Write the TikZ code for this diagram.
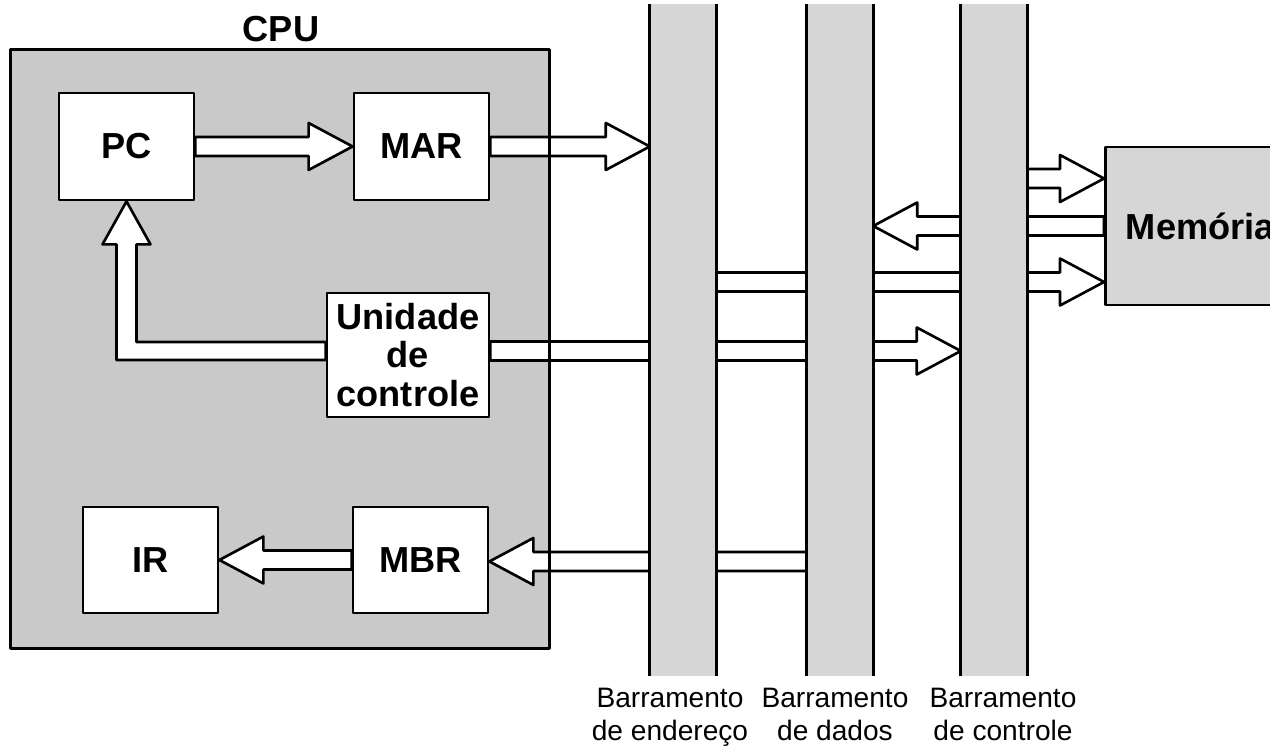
\documentclass[tikz,border=0pt]{standalone}
\usepackage{fontspec}
\setmainfont{Liberation Sans}
\usetikzlibrary{calc}
\definecolor{cpugray}{gray}{.79}
\definecolor{busgray}{gray}{.84}
\tikzset{
  reg/.style={draw,fill=white,line width=.8pt,inner sep=0pt,align=center},
  fat/.style={to path={
    ($(\tikztostart)!.095cm!90:(\tikztotarget)$)
    -- ($(\tikztotarget)!.44cm!(\tikztostart)!.095cm!90:(\tikztotarget)$)
    -- ($(\tikztotarget)!.44cm!(\tikztostart)!.235cm!90:(\tikztotarget)$)
    -- (\tikztotarget)
    -- ($(\tikztotarget)!.44cm!(\tikztostart)!.235cm!-90:(\tikztotarget)$)
    -- ($(\tikztotarget)!.44cm!(\tikztostart)!.095cm!-90:(\tikztotarget)$)
    -- ($(\tikztostart)!.095cm!-90:(\tikztotarget)$) -- cycle}},
  wide/.style={draw,fill=white,line width=.75pt}
}
\begin{document}
\begin{tikzpicture}[line join=round,font=\bfseries\fontsize{10.3}{11}\selectfont]
\useasboundingbox (0,0) rectangle (12.7,-7.46);
\clip (0,0) rectangle (12.7,-7.46);
\path (2.80,-3.49) node[fill=cpugray,minimum width=5.38cm,minimum height=5.98cm,inner sep=0](cpu){}
 (2.81,-.29) node(cpulbl){CPU}
 (11.04,-2.26) node[anchor=west,draw,fill=busgray,line width=.8pt,minimum width=1.9cm,minimum height=1.58cm,inner sep=0](mem){Memória};
\foreach \x/\y/\w/\h/\n/\g in {1.265/-1.465/1.35/1.07/pc/PC,4.215/-1.465/1.35/1.07/mar/MAR,4.08/-3.55/1.62/1.24/uc/{Unidade\\de\\controle},1.505/-5.60/1.35/1.06/ir/IR,4.205/-5.60/1.35/1.06/mbr/MBR}
  \path(\x,\y)node[reg,minimum width=\w cm,minimum height=\h cm](\n){\g};
\foreach \x/\n in {6.83/adr,8.40/dad,9.94/ctl}\path(\x,-3.40)node[minimum width=.65cm,minimum height=6.70cm,inner sep=0](\n){};
\draw[wide] (pc.east) to[fat] (mar.west);
\draw[wide] (mar.east) to[fat] (adr.west |- mar.east);
\draw[wide] (uc.west |- 0,-3.42) -| ($(pc.south)+(.1,-.43)$) -- ++(.14,0) -- (pc.south) -- ++(-.24,-.43) -- ++(.14,0) |- (uc.west |- 0,-3.60) -- cycle;
\draw[wide] (uc.east |- 0,-3.51) to[fat] (ctl.west |- 0,-3.51);
\draw[wide] (ctl.east |- 0,-1.785) to[fat] (mem.west |- 0,-1.785);
\draw[wide] (mem.west |- 0,-2.26) to[fat] (dad.east |- 0,-2.26);
\draw[wide] (adr.east |- 0,-2.82) to[fat] (mem.west |- 0,-2.82);
\draw[wide] (dad.west |- 0,-5.615) to[fat] (mbr.east |- 0,-5.615);
\draw[wide] (mbr.west) to[fat] (ir.east);
\foreach \n in {adr,dad,ctl}{
  \fill[busgray](\n.north west) rectangle (\n.south east);
  \draw[line width=.8pt](\n.north west)--(\n.south west)(\n.north east)--(\n.south east);}
\draw[line width=.8pt] (cpu.north west) rectangle (cpu.south east);
\foreach \n/\x/\g in {adr/6.70/endereço,dad/8.35/dados,ctl/10.03/controle}
  \path(\x,-6.87)node[anchor=north,align=center,inner sep=0,font=\mdseries\fontsize{8}{9.6}\selectfont](\n-lbl){Barramento\\de \g};
\end{tikzpicture}
\end{document}
